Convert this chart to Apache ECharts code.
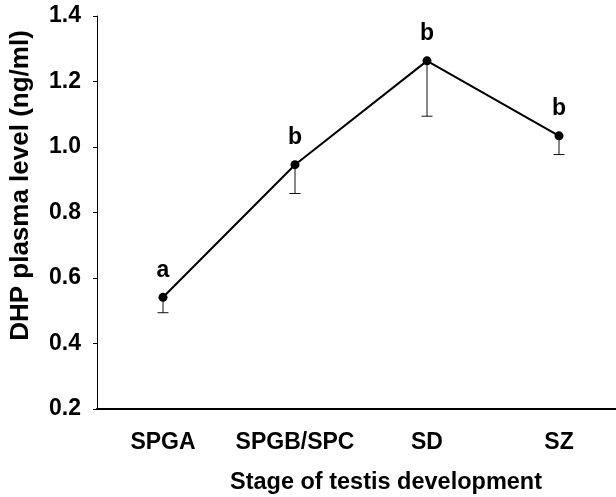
<!DOCTYPE html>
<html>
<head>
<meta charset="utf-8">
<script src="https://cdn.jsdelivr.net/npm/echarts@6/dist/echarts.min.js"></script>
<style>
  html, body { margin: 0; padding: 0; background: #fff; }
  #chart { width: 616px; height: 497px; }
</style>
</head>
<body>
<div id="chart"></div>
<script>
// Stages of testis development
const stages = ['SPGA', 'SPGB/SPC', 'SD', 'SZ'];
// Mean DHP plasma level (ng/ml)
const dhpMean = [0.541, 0.946, 1.263, 1.034];
// Lower end of the error bar (mean - SE)
const dhpLower = [0.494, 0.858, 1.094, 0.977];
// Significance letters
const sigLetters = ['a', 'b', 'b', 'b'];
// Y axis ticks
const yMin = 0.2, yMax = 1.4, yStep = 0.2;

const FONT = '"Liberation Sans", Arial, sans-serif';
const chart = echarts.init(document.getElementById('chart'), null, { renderer: 'canvas' });

chart.setOption({
  animation: false,
  backgroundColor: '#fff',
  grid: { left: 97, top: 16, bottom: 88, width: 528, outerBoundsMode: 'none', containLabel: false },
  xAxis: {
    type: 'category',
    data: stages,
    boundaryGap: true,
    name: 'Stage of testis development',
    nameLocation: 'middle',
    nameGap: 62,
    nameTextStyle: { fontFamily: FONT, fontWeight: 'bold', fontSize: 23.5, color: '#000', padding: [0, 0, 0, 50] },
    axisLine: { lineStyle: { color: '#000', width: 2 } },
    axisTick: { alignWithLabel: true, length: 4, lineStyle: { color: '#000', width: 1 } },
    axisLabel: { interval: 0, fontFamily: FONT, fontWeight: 'bold', fontSize: 23, color: '#000', margin: 22 },
    splitLine: { show: false }
  },
  yAxis: {
    type: 'value',
    min: yMin, max: yMax, interval: yStep,
    name: 'DHP plasma level (ng/ml)',
    nameLocation: 'middle',
    nameGap: 63,
    nameTextStyle: { fontFamily: FONT, fontWeight: 'bold', fontSize: 26, color: '#000', padding: [0, 0, 0, 54] },
    axisLine: { show: true, lineStyle: { color: '#000', width: 1 } },
    axisTick: { show: true, length: 4, lineStyle: { color: '#000', width: 1 } },
    axisLabel: { fontFamily: FONT, fontWeight: 'bold', fontSize: 23, color: '#000', margin: 16,
      formatter: v => v.toFixed(1) },
    splitLine: { show: false }
  },
  series: [
    {
      type: 'custom',
      name: 'error',
      data: stages.map((s, i) => [i, dhpMean[i], dhpLower[i]]),
      z: 1,
      renderItem: (params, api) => {
        const top = api.coord([api.value(0), api.value(1)]);
        const bot = api.coord([api.value(0), api.value(2)]);
        const half = 5.5;
        const style = { stroke: '#111', lineWidth: 1 };
        return {
          type: 'group',
          children: [
            { type: 'line', shape: { x1: top[0], y1: top[1], x2: bot[0], y2: bot[1] }, style },
            { type: 'line', shape: { x1: bot[0] - half, y1: bot[1], x2: bot[0] + half, y2: bot[1] }, style }
          ]
        };
      }
    },
    {
      type: 'line',
      name: 'DHP',
      data: dhpMean,
      z: 3,
      symbol: 'circle',
      symbolSize: 9,
      itemStyle: { color: '#000' },
      lineStyle: { color: '#000', width: 2 },
      label: {
        show: true, position: 'top', distance: 11,
        fontFamily: FONT, fontWeight: 'bold', fontSize: 23, color: '#000',
        formatter: p => sigLetters[p.dataIndex]
      }
    }
  ]
});
</script>
</body>
</html>
